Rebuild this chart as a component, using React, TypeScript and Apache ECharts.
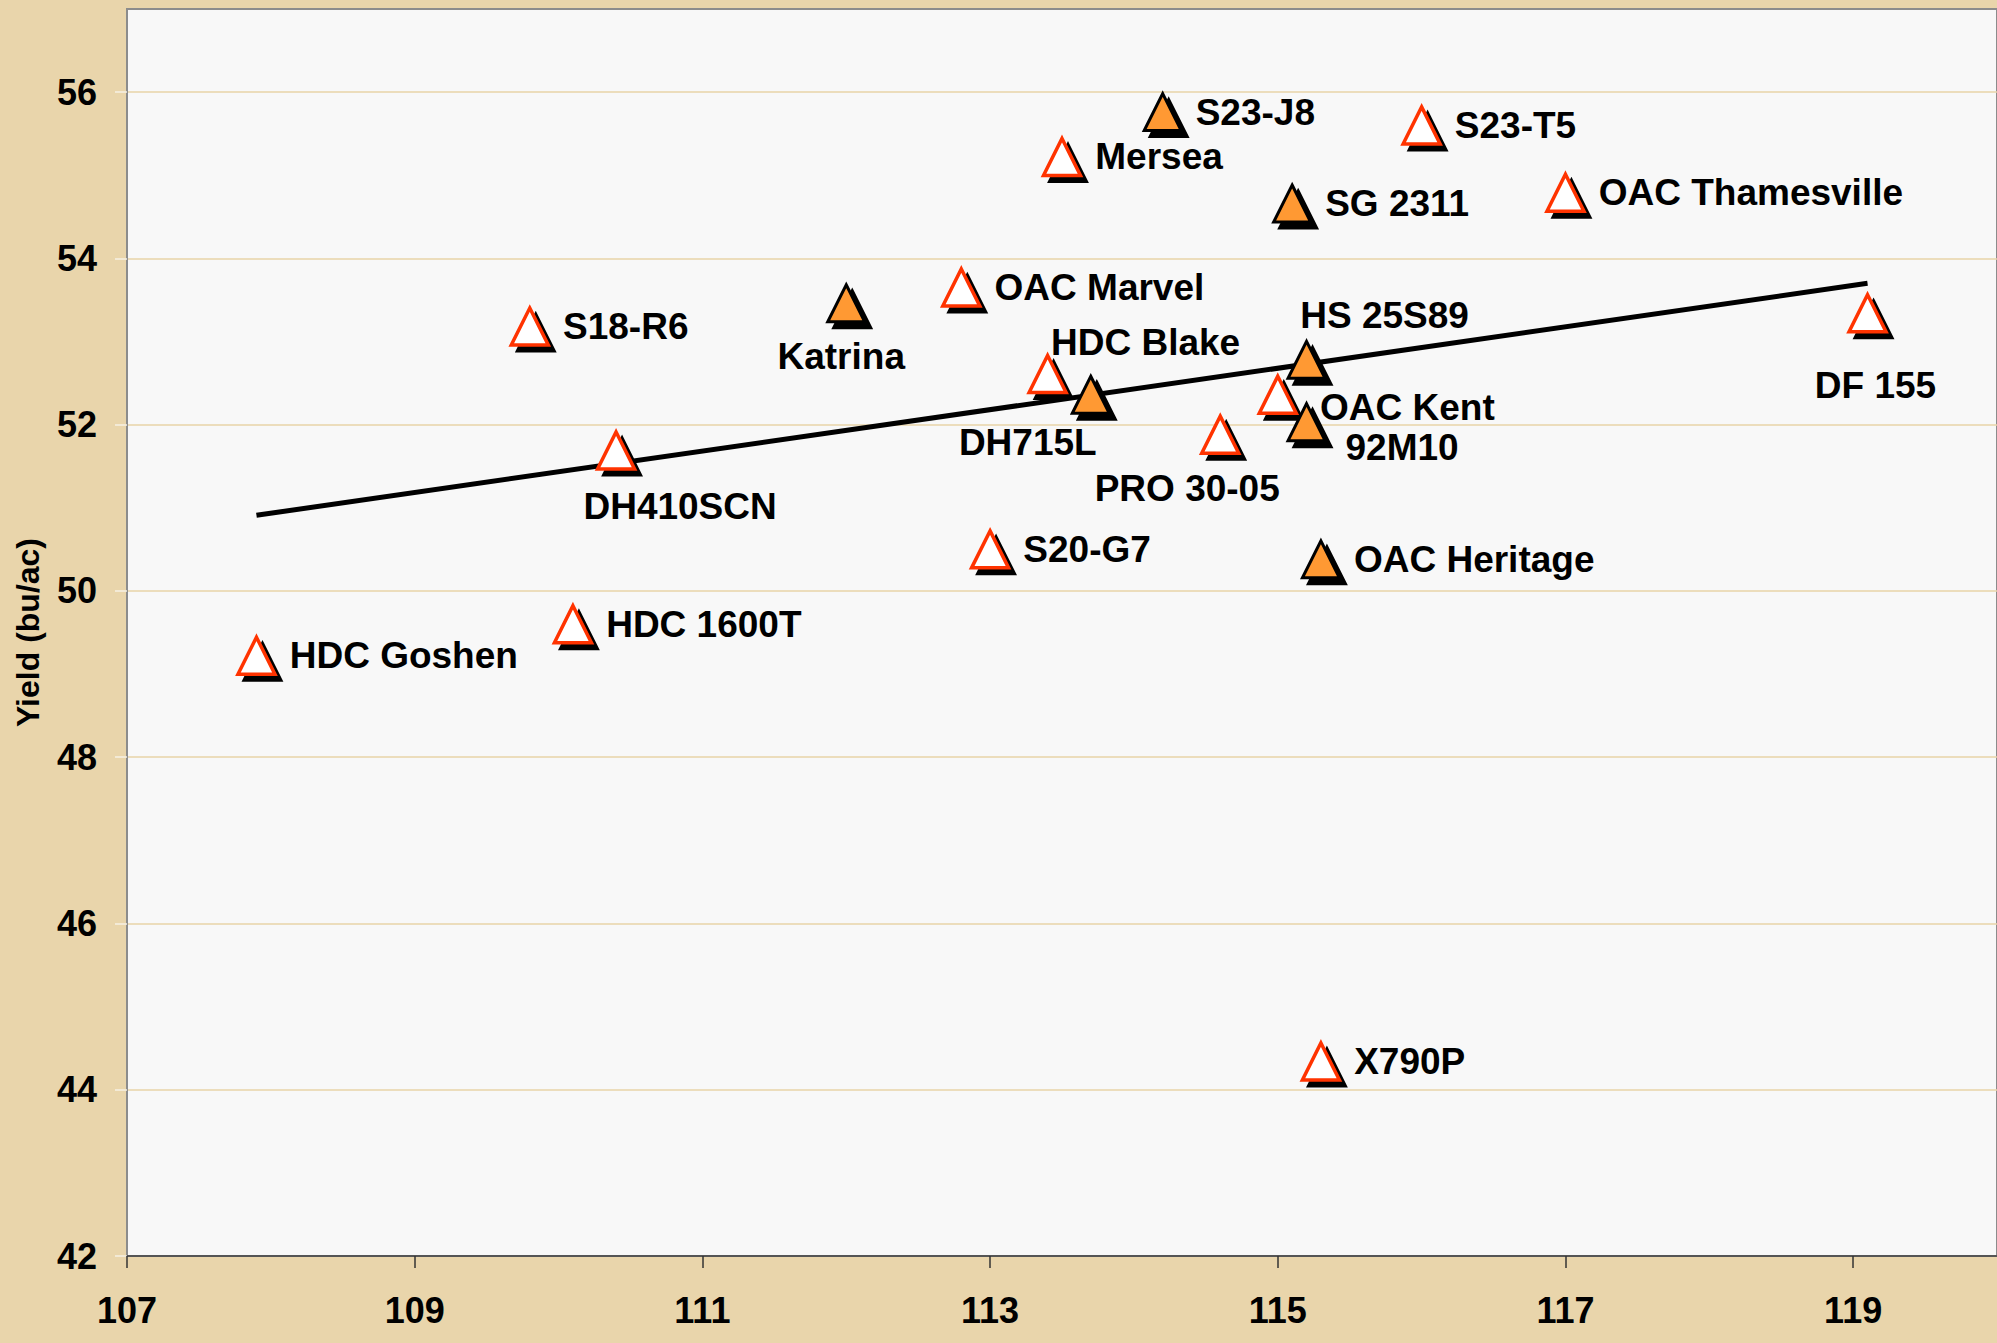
import React, { useEffect, useRef } from 'react';
import * as echarts from 'echarts';

// ---- data ----
const hollowNames = ['HDC Goshen', 'HDC 1600T', 'S18-R6', 'DH410SCN', 'OAC Marvel', 'Mersea', 'HDC Blake', 'S20-G7', 'PRO 30-05', 'OAC Kent', 'S23-T5', 'OAC Thamesville', 'DF 155', 'X790P'];
const hollowX = [107.9, 110.1, 109.8, 110.4, 112.8, 113.5, 113.4, 113.0, 114.6, 115.0, 116.0, 117.0, 119.1, 115.3];
const hollowY = [49.22, 49.6, 53.18, 51.69, 53.65, 55.22, 52.61, 50.5, 51.88, 52.36, 55.6, 54.79, 53.34, 44.34];

const filledNames = ['Katrina', 'S23-J8', 'DH715L', 'HS 25S89', '92M10', 'OAC Heritage', 'SG 2311'];
const filledX = [112.0, 114.2, 113.7, 115.2, 115.2, 115.3, 115.1];
const filledY = [53.46, 55.76, 52.36, 52.78, 52.03, 50.38, 54.66];

const trendX = [107.9, 119.1];
const trendY = [50.91, 53.7];

const xMin = 107;
const xMax = 120;
const xStep = 2;
const yMin = 42;
const yMax = 57;
const yStep = 2;
const yName = 'Yield (bu/ac)';

// ---- label placement (styling, not data) ----
type Place = { pos: 'right' | 'inside'; offset: [number, number] };
const placement: Record<string, Place> = {
  'DH410SCN': { pos: 'inside', offset: [64, 56] },
  'Katrina': { pos: 'inside', offset: [-5, 53] },
  'HDC Blake': { pos: 'inside', offset: [98, -31] },
  'HS 25S89': { pos: 'inside', offset: [78, -44] },
  'DH715L': { pos: 'inside', offset: [-63, 48] },
  'PRO 30-05': { pos: 'inside', offset: [-33, 54] },
  'DF 155': { pos: 'inside', offset: [8, 72] },
  'OAC Kent': { pos: 'right', offset: [9, 13] },
  '92M10': { pos: 'right', offset: [6, 25] },
};

const FONT = "'Liberation Sans', Arial, sans-serif";
const SYM: [number, number] = [37, 37];

function buildData(names: string[], xs: number[], ys: number[]) {
  return names.map((n, i) => {
    const p = placement[n] || { pos: 'right', offset: [0, 0] };
    return {
      name: n,
      value: [xs[i], ys[i]],
      label: {
        show: true,
        formatter: n,
        position: p.pos,
        distance: 13,
        offset: p.offset,
        align: p.pos === 'inside' ? 'center' : 'left',
        verticalAlign: 'middle',
      },
    };
  });
}

export default function App() {
  const ref = useRef<HTMLDivElement>(null);
  useEffect(() => {
    if (!ref.current) return;
    const chart = echarts.init(ref.current, undefined, { renderer: 'svg' });
    const shadowData = [
      ...hollowX.map((x, i) => [x, hollowY[i]]),
      ...filledX.map((x, i) => [x, filledY[i]]),
    ];
    const labelStyle = {
      fontFamily: FONT,
      fontSize: 37,
      fontWeight: 'bold',
      color: '#000',
      opacity: 1,
    };
    chart.setOption({
      animation: false,
      backgroundColor: '#E9D5AB',
      grid: {
        left: 127,
        top: 9,
        right: 0,
        bottom: 87,
        show: true,
        backgroundColor: '#F8F8F8',
        borderColor: '#8C8C8C',
        borderWidth: 2,
      },
      xAxis: {
        type: 'value',
        min: xMin,
        max: xMax,
        interval: xStep,
        axisLine: { show: true, lineStyle: { color: '#555', width: 2 } },
        axisTick: { show: true, length: 12, lineStyle: { color: '#333', width: 1.5 } },
        splitLine: { show: false },
        axisLabel: {
          showMaxLabel: false,
          margin: 36,
          fontFamily: FONT,
          fontSize: 36,
          fontWeight: 'bold',
          color: '#000',
        },
      },
      yAxis: {
        type: 'value',
        min: yMin,
        max: yMax,
        interval: yStep,
        name: yName,
        nameLocation: 'middle',
        nameGap: 83,
        nameTextStyle: { fontFamily: FONT, fontSize: 32, fontWeight: 'bold', color: '#000' },
        axisLine: { show: true, lineStyle: { color: '#8C8C8C', width: 2 } },
        axisTick: { show: true, length: 12, lineStyle: { color: '#F6F0E4', width: 1.5 } },
        splitLine: { show: true, showMaxLine: false, showMinLine: false, lineStyle: { color: '#E8D5A8', width: 1.5 } },
        axisLabel: {
          showMaxLabel: false,
          margin: 30,
          fontFamily: FONT,
          fontSize: 36,
          fontWeight: 'bold',
          color: '#000',
        },
      },
      series: [
        {
          type: 'line',
          data: trendX.map((x, i) => [x, trendY[i]]),
          showSymbol: false,
          lineStyle: { color: '#000', width: 5 },
          z: 1,
          silent: true,
        },
        {
          type: 'scatter',
          data: shadowData,
          symbol: 'triangle',
          symbolSize: SYM,
          symbolOffset: [6, 6],
          itemStyle: { color: '#000', borderColor: '#000', borderWidth: 3, opacity: 1 },
          z: 2,
          silent: true,
        },
        {
          type: 'scatter',
          data: buildData(hollowNames, hollowX, hollowY),
          symbol: 'triangle',
          symbolSize: SYM,
          itemStyle: { color: '#FFFFFF', borderColor: '#FF3300', borderWidth: 3.5, opacity: 1 },
          label: labelStyle,
          z: 3,
          silent: true,
        },
        {
          type: 'scatter',
          data: buildData(filledNames, filledX, filledY),
          symbol: 'triangle',
          symbolSize: SYM,
          itemStyle: { color: '#FF9933', borderColor: '#000', borderWidth: 3, opacity: 1 },
          label: labelStyle,
          z: 3,
          silent: true,
        },
      ],
    });
    return () => chart.dispose();
  }, []);
  return <div ref={ref} style={{ position: 'fixed', left: 0, top: 0, width: 1997, height: 1343 }} />;
}
